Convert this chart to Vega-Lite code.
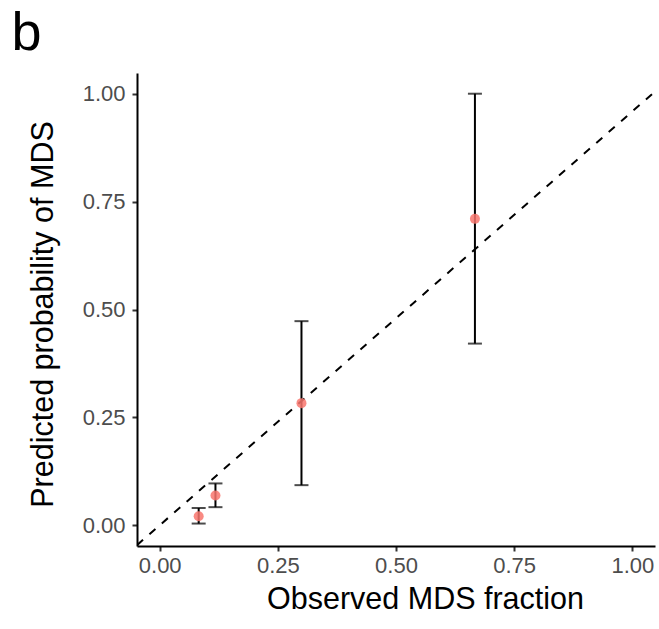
{
  "$schema": "https://vega.github.io/schema/vega-lite/v6.json",
  "width": 518,
  "height": 473,
  "autosize": {"type": "none"},
  "padding": {"left": 137, "top": 73, "right": 4, "bottom": 83},
  "background": "white",
  "config": {
    "view": {"stroke": null},
    "font": "Liberation Sans",
    "axis": {
      "grid": false,
      "domainColor": "black",
      "domainWidth": 2,
      "tickColor": "#333333",
      "tickWidth": 2,
      "tickSize": 5,
      "labelFont": "Liberation Sans",
      "labelFontSize": 22,
      "labelColor": "#4D4D4D",
      "titleFont": "Liberation Sans",
      "titleFontSize": 30.5,
      "titleFontWeight": "normal",
      "titleColor": "black"
    }
  },
  "title": {
    "text": "b",
    "font": "Liberation Sans",
    "fontSize": 54,
    "fontWeight": "normal",
    "color": "black",
    "anchor": "start",
    "frame": "group",
    "dx": -125.6,
    "dy": 52,
    "baseline": "alphabetic",
    "offset": 21
  },
  "datasets": {
    "pts": [
      {"observed": 0.0825, "predicted": 0.021, "lo": 0.004, "hi": 0.040},
      {"observed": 0.118, "predicted": 0.069, "lo": 0.042, "hi": 0.097},
      {"observed": 0.300, "predicted": 0.283, "lo": 0.093, "hi": 0.473},
      {"observed": 0.667, "predicted": 0.710, "lo": 0.421, "hi": 1.000}
    ],
    "ref": [
      {"x": -0.048, "y": -0.046},
      {"x": 1.048, "y": 1.005}
    ]
  },
  "layer": [
    {
      "data": {"name": "ref"},
      "mark": {"type": "line", "color": "black", "strokeWidth": 2, "strokeDash": [8, 8.5], "clip": true},
      "encoding": {
        "x": {
          "field": "x", "type": "quantitative",
          "title": "Observed MDS fraction",
          "scale": {"domain": [-0.048, 1.048], "nice": false, "zero": false},
          "axis": {
            "values": [0, 0.25, 0.5, 0.75, 1],
            "format": ".2f",
            "labelPadding": 4,
            "titleX": 288,
            "titleY": 62,
            "titleAlign": "center",
            "titleBaseline": "alphabetic"
          }
        },
        "y": {
          "field": "y", "type": "quantitative",
          "title": "Predicted probability of MDS",
          "scale": {"domain": [-0.048, 1.048], "nice": false, "zero": false},
          "axis": {
            "values": [0, 0.25, 0.5, 0.75, 1],
            "format": ".2f",
            "labelPadding": 7,
            "titleX": -85,
            "titleY": 241,
            "titleAlign": "center",
            "titleBaseline": "alphabetic"
          }
        }
      }
    },
    {
      "data": {"name": "pts"},
      "mark": {"type": "errorbar", "color": "black", "thickness": 2, "ticks": {"size": 14, "color": "black", "thickness": 2}},
      "encoding": {
        "x": {"field": "observed", "type": "quantitative", "title": "Observed MDS fraction"},
        "y": {"field": "lo", "type": "quantitative", "title": "Predicted probability of MDS"},
        "y2": {"field": "hi"}
      }
    },
    {
      "data": {"name": "pts"},
      "mark": {"type": "circle", "size": 100, "color": "#F8766D", "opacity": 0.85},
      "encoding": {
        "x": {"field": "observed", "type": "quantitative", "title": "Observed MDS fraction"},
        "y": {"field": "predicted", "type": "quantitative", "title": "Predicted probability of MDS"}
      }
    }
  ]
}
